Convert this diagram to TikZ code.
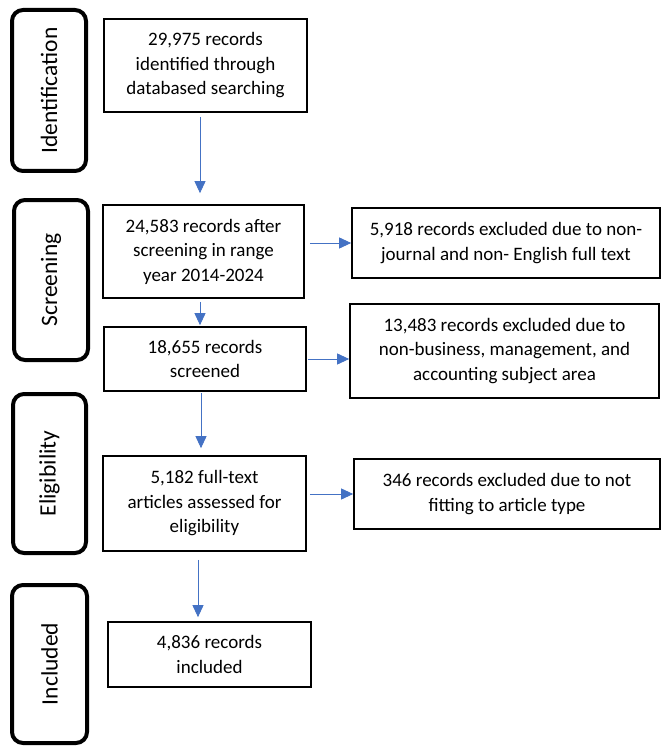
\documentclass[tikz,border=0pt]{standalone}
\usepackage{fontspec}
\setmainfont{Carlito}
\usetikzlibrary{arrows.meta}
\definecolor{arrblue}{HTML}{4472C4}
\begin{document}
\begin{tikzpicture}[x=1pt,y=-1pt,
  box/.style={draw=black, line width=1.7pt, align=center, inner sep=0pt,
    font=\fontsize{19}{24.5}\selectfont},
  phase/.style={draw=black, line width=4pt, rounded corners=11pt, rotate=90,
    inner sep=0pt, font=\fontsize{23.5}{26}\selectfont},
  arr/.style={draw=arrblue, line width=0.9pt, -{Triangle[width=11pt,length=12pt]}}
]
\useasboundingbox (0,0) rectangle (662,746);
% phase labels
\node[phase, minimum width=161pt, minimum height=74pt] (pid) at (49,90.5) {Identification};
\node[phase, minimum width=160pt, minimum height=74pt] (psc) at (51,280) {Screening};
\node[phase, minimum width=159pt, minimum height=73pt] (pel) at (49.5,473.5) {Eligibility};
\node[phase, minimum width=158pt, minimum height=75pt] (pin) at (49.5,664) {Included};
% main boxes
\node[box, minimum width=203pt, minimum height=93pt] (b1) at (205.5,65.5) {29,975 records\\identified through\\databased searching};
\node[box, minimum width=201pt, minimum height=93pt] (b2) at (203.5,251.5) {24,583 records after\\screening in range\\year 2014-2024};
\node[box, minimum width=202pt, minimum height=64pt] (b3) at (205,359) {18,655 records\\screened};
\node[box, minimum width=203pt, minimum height=95pt] (b4) at (204.5,503.5) {5,182 full-text\\articles assessed for\\eligibility};
\node[box, minimum width=203pt, minimum height=65pt] (b5) at (209.5,654.5) {4,836 records\\included};
% exclusion boxes
\node[box, minimum width=308pt, minimum height=70pt] (r1) at (506,243) {5,918 records excluded due to non-\\journal and non- English full text};
\node[box, minimum width=309pt, minimum height=94pt] (r2) at (504.5,351) {13,483 records excluded due to\\non-business, management, and\\accounting subject area};
\node[box, minimum width=306pt, minimum height=70pt] (r3) at (507,494) {346 records excluded due to not\\fitting to article type};
% vertical arrows
\draw[arr, shorten <=4pt, shorten >=11pt] ([xshift=-5.5pt]b1.south) -- ([xshift=-5.5pt]b1.south |- b2.north);
\draw[arr, shorten <=3pt, shorten >=1pt] ([xshift=-3.5pt]b2.south) -- ([xshift=-3.5pt]b2.south |- b3.north);
\draw[arr, shorten <=1pt, shorten >=7pt] ([xshift=-4pt]b3.south) -- ([xshift=-4pt]b3.south |- b4.north);
\draw[arr, shorten <=8pt, shorten >=4pt] ([xshift=-6.5pt]b4.south) -- ([xshift=-6.5pt]b4.south |- b5.north);
% horizontal arrows
\draw[arr, shorten <=5pt] (r1.west -| b2.east) -- (r1.west);
\draw[arr, shorten <=1pt] (b3.east) -- (b3.east -| r2.west);
\draw[arr, shorten <=3pt] (r3.west -| b4.east) -- (r3.west);
\end{tikzpicture}
\end{document}
